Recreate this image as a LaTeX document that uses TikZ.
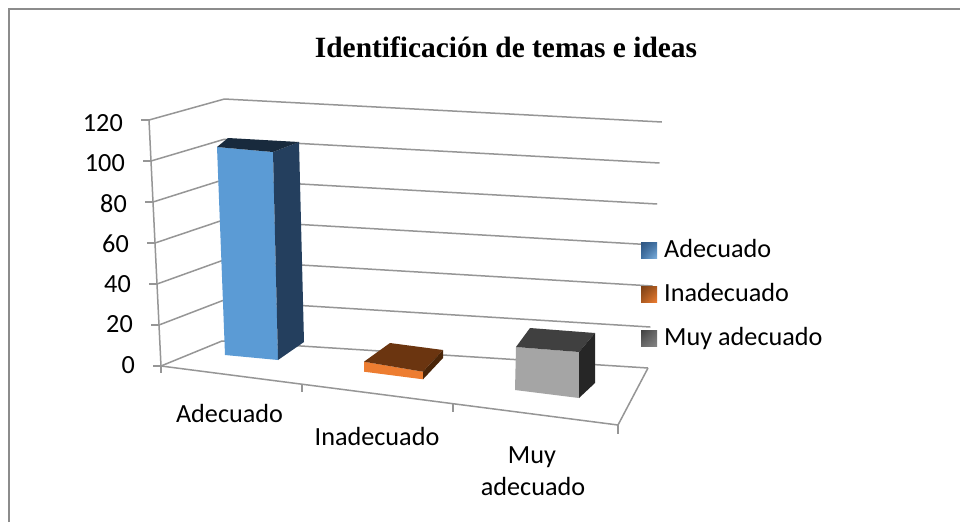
\documentclass[tikz,border=0pt]{standalone}
\usepackage{fontspec}
\usetikzlibrary{shadings}
\setmainfont{Carlito}
\newfontfamily\titlefont{Liberation Serif}
\definecolor{gridc}{HTML}{969696}
\definecolor{framec}{HTML}{8C8C8C}
\definecolor{blueF}{HTML}{5B9BD5}
\definecolor{blueS}{HTML}{243F5E}
\definecolor{blueT}{HTML}{182A3D}
\definecolor{blueL}{HTML}{2E5480}
\definecolor{orgF}{HTML}{ED7D31}
\definecolor{orgS}{HTML}{4A2508}
\definecolor{orgT}{HTML}{6B3510}
\definecolor{gryF}{HTML}{A5A5A5}
\definecolor{gryS}{HTML}{262626}
\definecolor{gryT}{HTML}{404040}
\tikzset{
  gridline/.style={draw=gridc, line width=1.5pt},
  lbl/.style={font=\fontsize{26.2}{30}\selectfont, inner sep=0pt},
}
\begin{document}
\begin{tikzpicture}[x=1pt,y=-1pt]
\fill[white] (0,0) rectangle (960,522);
\useasboundingbox (0,0) rectangle (960,522);
% frame
\coordinate (fr1) at (9,522);
\coordinate (fr2) at (9,8.5);
\coordinate (fr3) at (960,8.5);
\draw[framec, line width=2pt] (fr1) -- (fr2) -- (fr3);
% title
\node[inner sep=0pt, anchor=base, font=\titlefont\bfseries\fontsize{29.4}{34}\selectfont] (title) at (506,57) {Identificación de temas e ideas};
% gridlines (back wall + left side wall)
\foreach \i in {0,...,6}{
  \coordinate (F\i) at ({161-2*\i},{366-41*\i});
  \coordinate (B\i) at ({222+0.4*\i},{341-40.33*\i});
  \coordinate (R\i) at ({648+2.3*\i},{368-41*\i});
  \draw[gridline] (F\i) -- (B\i) -- (R\i);
  \coordinate (T\i) at ({153-2*\i},{366-41*\i});
  \draw[gridline] (T\i) -- (F\i);
}
% axis vertical
\draw[gridline] (F0) -- (F6);
% floor front edge
\coordinate (FR) at (618,425);
\draw[gridline] (F0) -- (FR) -- (R0);
% category ticks
\coordinate (k0) at (161,373);
\coordinate (k1a) at (302,384.2);
\coordinate (k1b) at (302,392);
\coordinate (k2a) at (453,403.7);
\coordinate (k2b) at (453,411.5);
\coordinate (k3) at (618,434);
\draw[gridline] (F0) -- (k0);
\draw[gridline] (k1a) -- (k1b);
\draw[gridline] (k2a) -- (k2b);
\draw[gridline] (FR) -- (k3);
% y labels
\foreach \i/\v in {0/0,1/20,2/40,3/60,4/80,5/100,6/120}{
  \node[lbl, anchor=base east] (y\i) at ({135-2*\i},{373-40.25*\i}) {\v};
}
% blue bar
\fill[blueF] (217,147) -- (273,152) -- (278,360) -- (225,355) -- cycle;
\fill[blueS] (273,152) -- (299,142) -- (304,342) -- (278,360) -- cycle;
\fill[blueT] (217,147) -- (228,138) -- (299,142) -- (273,152) -- cycle;
% orange bar
\fill[orgF] (364,361.7) -- (423,371.7) -- (423,379.3) -- (364,371.7) -- cycle;
\fill[orgT] (364,361.7) -- (390,343) -- (443,350) -- (423,371.7) -- cycle;
\fill[orgS] (423,371.7) -- (443,350) -- (443,358) -- (423,379.3) -- cycle;
% gray bar
\fill[gryF] (516,347) -- (579,352) -- (579,398) -- (515,390) -- cycle;
\fill[gryT] (516,347) -- (530,328) -- (595,333) -- (579,352) -- cycle;
\fill[gryS] (579,352) -- (595,333) -- (595,383) -- (579,398) -- cycle;
% category labels
\node[lbl, anchor=base] (c1) at (229.5,422) {Adecuado};
\node[lbl, anchor=base] (c2) at (377,445) {Inadecuado};
\node[lbl, anchor=base] (c3a) at (532,463) {Muy};
\node[lbl, anchor=base] (c3b) at (533,495) {adecuado};
% legend
\shade[upper left=blueL, lower right=blueF!80!white, upper right=blueL!60!blueF, lower left=blueL!60!blueF] (641,242) rectangle (657,258);
\node[lbl, anchor=base west] (l1) at (664,257) {Adecuado};
\shade[upper left=orgS!70!orgF, lower right=orgF, upper right=orgS!40!orgF, lower left=orgS!40!orgF] (641,286) rectangle (657,302);
\node[lbl, anchor=base west] (l2) at (664,301) {Inadecuado};
\shade[upper left=gryT, lower right=gryF!80!black, upper right=gryT!60!gryF, lower left=gryT!60!gryF] (641,330) rectangle (657,346);
\node[lbl, anchor=base west] (l3) at (664,345) {Muy adecuado};
\end{tikzpicture}
\end{document}
